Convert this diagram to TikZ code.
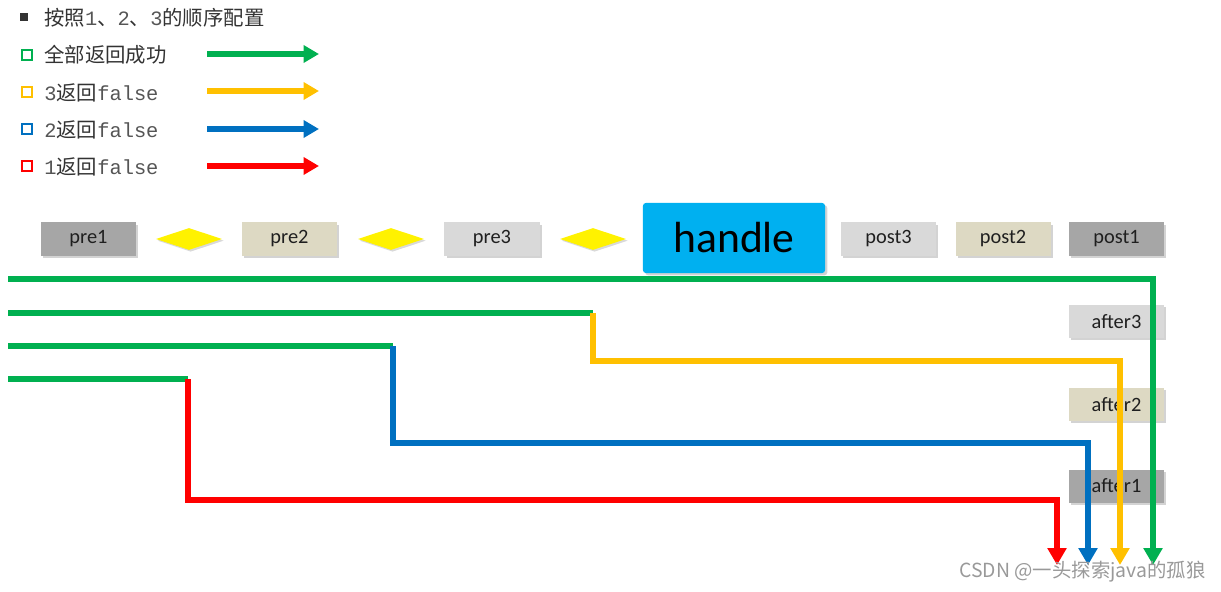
\documentclass[tikz,border=0pt]{standalone}
\usepackage{fontspec}
\setmainfont{Carlito}
\newfontfamily\cjk{Noto Sans CJK SC}
\newfontfamily\mono{Liberation Mono}
\usetikzlibrary{arrows.meta,shapes.geometric,shadows,positioning}
\definecolor{okgreen}{HTML}{00B050}
\definecolor{falseyellow}{HTML}{FFC000}
\definecolor{falseblue}{HTML}{0070C0}
\definecolor{falsered}{HTML}{FF0000}
\definecolor{darkgrey}{HTML}{A6A6A6}
\definecolor{beige}{HTML}{DDD9C3}
\definecolor{lightgrey}{HTML}{D9D9D9}
\definecolor{handleblue}{HTML}{00B0F0}
\definecolor{txt}{HTML}{333333}
\definecolor{boxtxt}{HTML}{1F1F1F}
\definecolor{monotxt}{HTML}{555555}
\tikzset{>=latex}
\tikzset{
	ibox/.style={rectangle, minimum width=2.375cm, minimum height=0.825cm, inner sep=0pt,
		font=\fontsize{14.5}{16}\selectfont, text=boxtxt,
		drop shadow={shadow xshift=1.6pt, shadow yshift=-1.6pt, opacity=0.35}},
	gate/.style={diamond, fill=yellow, minimum width=1.65cm, minimum height=0.55cm, inner sep=0pt,
		drop shadow={shadow xshift=1.2pt, shadow yshift=-1.2pt, opacity=0.3}},
	sqmark/.style={rectangle, minimum size=0.24cm, inner sep=0pt, line width=1.5pt, fill=white},
	legtext/.style={anchor=west, inner sep=0pt, text=txt, font=\fontsize{14.5}{16}\selectfont},
	legarrow/.style={line width=3.6pt, -{Triangle[length=11pt,width=12pt]}},
	flow/.style={line width=3.6pt},
	flowarrow/.style={line width=3.6pt, -{Triangle[length=12pt,width=13pt]}}
}
\newcommand{\mtxt}[1]{{\mono\color{monotxt}#1}}

\begin{document}
\begin{tikzpicture}[x=0.025cm, y=-0.025cm]
	\useasboundingbox (0,0) rectangle (1221,591);

	% Legend
	\node[sqmark, fill=txt, minimum size=0.2cm] (m0) at (24,17) {};
	\node[legtext] (t0) at (44,18) {\cjk 按照\mtxt{1}、\mtxt{2}、\mtxt{3}的顺序配置};
	\node[sqmark, draw=okgreen] (m1) at (27,55) {};
	\node[legtext] (t1) at (44,55) {\cjk 全部返回成功};
	\node[sqmark, draw=falseyellow] (m2) at (27,92) {};
	\node[legtext] (t2) at (44,93) {\mtxt{3}{\cjk 返回}\mtxt{false}};
	\node[sqmark, draw=falseblue] (m3) at (27,129) {};
	\node[legtext] (t3) at (44,130) {\mtxt{2}{\cjk 返回}\mtxt{false}};
	\node[sqmark, draw=falsered] (m4) at (27,166) {};
	\node[legtext] (t4) at (44,167) {\mtxt{1}{\cjk 返回}\mtxt{false}};

	\coordinate (l1a) at (207,54);  \coordinate (l1b) at (319,54);
	\coordinate (l2a) at (207,91);  \coordinate (l2b) at (319,91);
	\coordinate (l3a) at (207,129); \coordinate (l3b) at (319,129);
	\coordinate (l4a) at (207,166); \coordinate (l4b) at (319,166);
	\draw[legarrow, okgreen] (l1a) -- (l1b);
	\draw[legarrow, falseyellow] (l2a) -- (l2b);
	\draw[legarrow, falseblue] (l3a) -- (l3b);
	\draw[legarrow, falsered] (l4a) -- (l4b);

	% Interceptor chain
	\node[ibox, fill=darkgrey] (pre1) at (88.5,239) {pre1};
	\node[gate] (g1) at (189,239) {};
	\node[ibox, fill=beige] (pre2) at (289.5,239) {pre2};
	\node[gate] (g2) at (391,239) {};
	\node[ibox, fill=lightgrey] (pre3) at (492,239) {pre3};
	\node[gate] (g3) at (593,239) {};
	\node[rectangle, rounded corners=2pt, fill=handleblue, minimum width=4.55cm, minimum height=1.75cm,
		font=\fontsize{31}{34}\selectfont, text=black,
		drop shadow={shadow xshift=1.6pt, shadow yshift=-1.6pt, opacity=0.35}] (handle) at (734,238) {handle};
	\node[ibox, fill=lightgrey] (post3) at (888.5,239) {post3};
	\node[ibox, fill=beige] (post2) at (1003,239) {post2};
	\node[ibox, fill=darkgrey] (post1) at (1116.5,239) {post1};
	\node[ibox, fill=lightgrey] (after3) at (1116.5,321.5) {after3};
	\node[ibox, fill=beige] (after2) at (1116.5,404.5) {after2};
	\node[ibox, fill=darkgrey] (after1) at (1116.5,486) {after1};

	% Flows
	\coordinate (s1) at (8,279);  \coordinate (e1) at (1153,565);
	\coordinate (s2) at (8,313);  \coordinate (k2) at (593,313); \coordinate (d2) at (593,361); \coordinate (e2) at (1120,565);
	\coordinate (s3) at (8,346);  \coordinate (k3) at (393,346); \coordinate (d3) at (393,443); \coordinate (e3) at (1088,565);
	\coordinate (s4) at (8,379);  \coordinate (k4) at (188,379); \coordinate (d4) at (188,500); \coordinate (e4) at (1057,565);

	\draw[flowarrow, okgreen] (s1) -| (e1);
	\draw[flow, okgreen] (s2) -- (k2);
	\draw[flowarrow, falseyellow] (k2) -- (d2) -| (e2);
	\draw[flow, okgreen] (s3) -- (k3);
	\draw[flowarrow, falseblue] (k3) -- (d3) -| (e3);
	\draw[flow, okgreen] (s4) -- (k4);
	\draw[flowarrow, falsered] (k4) -- (d4) -| (e4);

	% Watermark
	\node[anchor=west, inner sep=0pt, text=gray!80, font=\cjk\fontsize{13.8}{15}\selectfont] (wm) at (959,572) {CSDN @一头探索java的孤狼};
\end{tikzpicture}
\end{document}
